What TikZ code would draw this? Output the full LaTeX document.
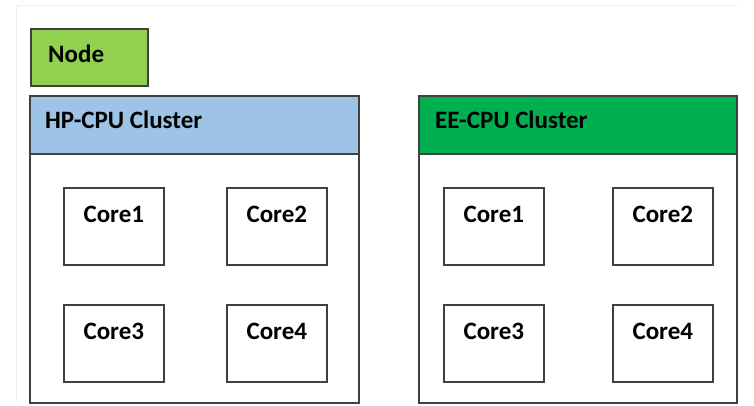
\documentclass[tikz,border=0pt]{standalone}
\usepackage{fontspec}
\setmainfont{Carlito}
\definecolor{nodegreen}{HTML}{92D050}
\definecolor{hpblue}{HTML}{9DC3E6}
\definecolor{eegreen}{HTML}{00B050}
\definecolor{edge}{HTML}{404040}
\definecolor{faint}{HTML}{EDEDED}
\begin{document}
\begin{tikzpicture}[x=1pt,y=-1pt,
  lbl/.style={font=\bfseries\fontsize{25}{28}\selectfont, inner sep=0pt},
  box/.style={draw=edge, line width=1.6pt, rectangle, inner sep=0pt, anchor=north west},
  core/.style={box, minimum width=100pt, minimum height=77pt,
    label={[lbl, anchor=base, yshift=-35pt]north:#1}}
]
\fill[white] (0,0) rectangle (754,406);
\useasboundingbox (0,0) rectangle (754,406);
% faint frame lines
\draw[faint, line width=1pt] (16,6) -- (737,6);
\draw[faint, line width=1pt] (16,6) -- (16,402);

% legend box
\node[box, fill=nodegreen, minimum width=117pt, minimum height=57pt] (node) at (30,28) {};
\node[lbl, anchor=base west] (nodetxt) at (48,63) {Node};

% HP-CPU cluster
\node[box, minimum width=329pt, minimum height=307pt] (hpbody) at (29,95) {};
\node[box, fill=hpblue, minimum width=329pt, minimum height=58pt] (hphead) at (29,95) {};
\node[lbl, anchor=base west] (hptxt) at (45,129) {HP-CPU Cluster};
\node[core=Core1] (hc1) at (63,187) {};
\node[core=Core2] (hc2) at (226,187) {};
\node[core=Core3] (hc3) at (63,304) {};
\node[core=Core4] (hc4) at (226,304) {};

% EE-CPU cluster
\node[box, minimum width=318pt, minimum height=307pt] (eebody) at (418,95) {};
\node[box, fill=eegreen, minimum width=318pt, minimum height=58pt] (eehead) at (418,95) {};
\node[lbl, anchor=base west] (eetxt) at (435,129) {EE-CPU Cluster};
\node[core=Core1] (ec1) at (443,187) {};
\node[core=Core2] (ec2) at (612,187) {};
\node[core=Core3] (ec3) at (443,304) {};
\node[core=Core4] (ec4) at (612,304) {};
\end{tikzpicture}
\end{document}
